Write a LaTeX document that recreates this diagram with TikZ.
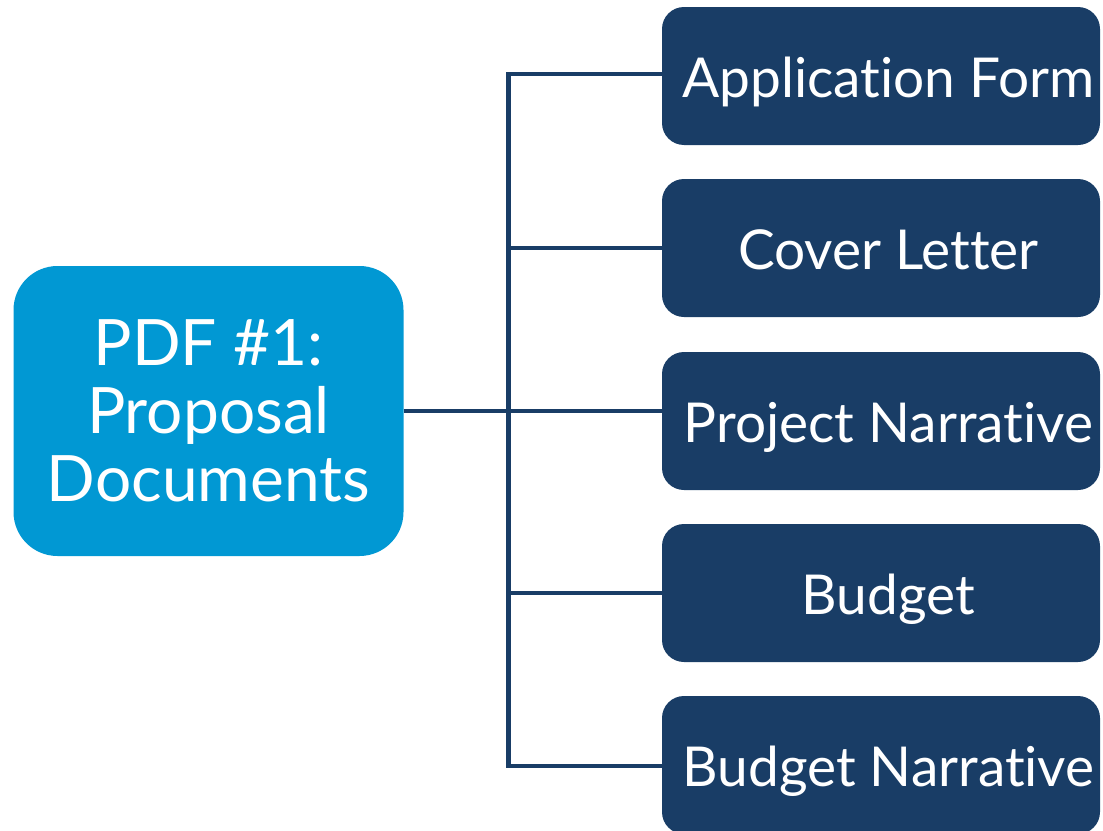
\documentclass[tikz,border=0pt]{standalone}
\usepackage{fontspec}
\setmainfont{Lato}[Ligatures={NoCommon}]
\definecolor{mainblue}{HTML}{0198D3}
\definecolor{navy}{HTML}{193D66}
\newcommand{\shiftr}{\hspace*{15pt}}
\begin{document}
\begin{tikzpicture}[x=1pt,y=-1pt,
  mainbox/.style={fill=mainblue,rounded corners=44pt,minimum width=390pt,minimum height=290pt,inner sep=0pt,align=center,text=white,font=\fontsize{64}{68}\selectfont},
  itembox/.style={fill=navy,rounded corners=22pt,minimum width=438pt,minimum height=138pt,inner sep=0pt,text=white,text height=52pt,text depth=10pt,font=\fontsize{55}{60}\selectfont},
  link/.style={draw=navy,line width=4.5pt}]
\useasboundingbox (0,0) rectangle (1103,830);
\node[mainbox] (main) at (208.5,411) {PDF \#1:\\Proposal\\Documents};
\node[itembox] (a1) at (881,76) {\shiftr Application Form};
\node[itembox] (a2) at (881,248) {\shiftr Cover Letter};
\node[itembox] (a3) at (881,421) {\shiftr Project Narrative};
\node[itembox] (a4) at (881,593) {\shiftr Budget};
\node[itembox] (a5) at (881,765) {\shiftr Budget Narrative};
\coordinate (spine) at (508.5,0);
\coordinate (top) at (508.5,74);
\coordinate (bot) at (508.5,766);
\draw[link] (top) -- (bot);
\draw[link,line cap=rect] (top) -- (top -| a1.west);
\draw[link] (spine |- a2.west) -- (a2.west);
\draw[link] (main.east) -- (main.east -| a3.west);
\draw[link] (spine |- a4.west) -- (a4.west);
\draw[link,line cap=rect] (bot) -- (bot -| a5.west);
\end{tikzpicture}
\end{document}
